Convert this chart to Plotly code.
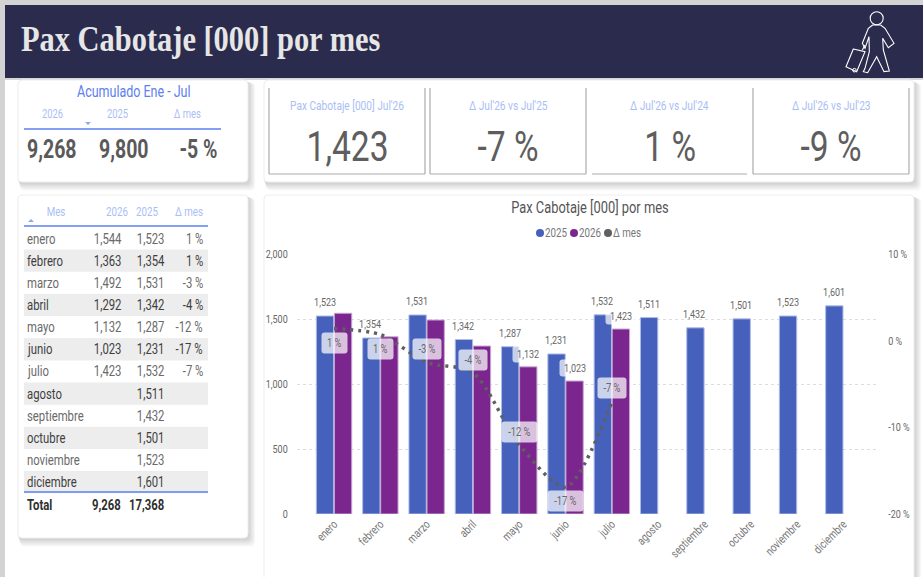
#!/usr/bin/env python3
# Pax Cabotaje dashboard: the chart on real axes, the cards drawn as shapes in pixel coordinates
import plotly.graph_objects as go

W = 923
H = 577

meses = ["enero", "febrero", "marzo", "abril", "mayo", "junio", "julio",
         "agosto", "septiembre", "octubre", "noviembre", "diciembre"]
pax_2025 = [1523, 1354, 1531, 1342, 1287, 1231, 1532, 1511, 1432, 1501, 1523, 1601]
pax_2026 = [1544, 1363, 1492, 1292, 1132, 1023, 1423, None, None, None, None, None]
delta_mes = [1.4, 0.7, -2.5, -3.7, -12.0, -16.9, -7.1, None, None, None, None, None]
delta_labels = ["1 %", "1 %", "-3 %", "-4 %", "-12 %", "-17 %", "-7 %"]
total_2026 = "9,268"
total_2025 = "17,368"
kpi_captions = ["Pax Cabotaje [000] Jul'26", "Δ Jul'26 vs Jul'25", "Δ Jul'26 vs Jul'24", "Δ Jul'26 vs Jul'23"]
kpi_values = ["1,423", "-7 %", "1 %", "-9 %"]
acum_headers = ["2026", "2025", "Δ mes"]
acum_values = ["9,268", "9,800", "-5 %"]
left_ticks = [0, 500, 1000, 1500, 2000]
right_ticks = [-20, -10, 0, 10]
right_tick_labels = ["-20 %", "-10 %", "0 %", "10 %"]

NAVY = "#2B2C4D"
BLUE = "#4561BC"
PURPLE = "#7A268E"
ACCENT = "#5B80F0"
HEAD = "#A9BEF6"
GREY = "#5F5F5F"
SANS = "Roboto, sans-serif"
SERIF = "Liberation Serif, serif"

# the report uses a condensed face that is not installed, so the text gets squeezed after drawing
SQUEEZE = """
document.body.style.margin = '0';
document.body.style.overflow = 'hidden';
document.querySelectorAll('.annotation text, .xtick text, .ytick text, .y2tick text').forEach(function (t) {
    var k = t.style.fontFamily.indexOf('Serif') >= 0 ? 0.845 : 0.78;
    t.setAttribute('lengthAdjust', 'spacingAndGlyphs');
    t.setAttribute('textLength', t.getComputedTextLength() * k);
});
document.querySelectorAll('.annotation .bg').forEach(function (r) { r.setAttribute('rx', 3); });
"""

shapes = []
notes = []


def px(x):
    return x / W


def py(y):
    return 1 - y / H


def rect(x0, y0, x1, y1, fill):
    shapes.append(dict(type="rect", xref="paper", yref="paper", x0=px(x0), x1=px(x1), y0=py(y1), y1=py(y0),
                       fillcolor=fill, line=dict(width=0), layer="below"))


def seg(x0, y0, x1, y1, color, width=1):
    shapes.append(dict(type="line", xref="paper", yref="paper", x0=px(x0), x1=px(x1), y0=py(y0), y1=py(y1),
                       line=dict(color=color, width=width), layer="below"))


def round_path(x0, y0, x1, y1, r):
    return (f"M {px(x0 + r)} {py(y0)} L {px(x1 - r)} {py(y0)} Q {px(x1)} {py(y0)} {px(x1)} {py(y0 + r)} "
            f"L {px(x1)} {py(y1 - r)} Q {px(x1)} {py(y1)} {px(x1 - r)} {py(y1)} "
            f"L {px(x0 + r)} {py(y1)} Q {px(x0)} {py(y1)} {px(x0)} {py(y1 - r)} "
            f"L {px(x0)} {py(y0 + r)} Q {px(x0)} {py(y0)} {px(x0 + r)} {py(y0)} Z")


def card(x0, y0, x1, y1):
    # soft shadow to the lower right, built from a few see-through layers
    for i in range(6, 0, -1):
        shapes.append(dict(type="path", xref="paper", yref="paper", layer="below",
                           path=round_path(x0 - 1 + i * .5, y0 + i * .5, x1 + i * 1.2, y1 + i * 1.4, 5),
                           fillcolor="rgba(0,0,0,0.03)", line=dict(width=0)))
    shapes.append(dict(type="path", xref="paper", yref="paper", layer="below",
                       path=round_path(x0, y0, x1, y1, 4), fillcolor="white", line=dict(color="#EEEEEE", width=1)))


def text(x, y, s, size, color, anchor="center", font=SANS, bold=False):
    # annotations carry a small inner pad, taken back here
    x += {"left": -2, "right": 1}.get(anchor, 0)
    notes.append(dict(xref="paper", yref="paper", x=px(x), y=py(y), text=s, showarrow=False,
                      xanchor=anchor, align=anchor, yanchor="middle",
                      font=dict(family=font, size=size, color=color, weight="bold" if bold else "normal")))


def poly(points, color="white", width=1.1, close=True):
    d = "M " + " L ".join(f"{px(830 + a / 3)} {py(b / 3)}" for a, b in points) + (" Z" if close else "")
    shapes.append(dict(type="path", xref="paper", yref="paper", path=d, line=dict(color=color, width=width), layer="above"))


def triangle(x, y, up, color):
    d = -3 if up else 3
    shapes.append(dict(type="path", xref="paper", yref="paper", layer="below", fillcolor=color, line=dict(width=0),
                       path=f"M {px(x - 3)} {py(y)} L {px(x + 3)} {py(y)} L {px(x)} {py(y + d)} Z"))


# page frame and header
rect(0, 0, W, 5, "#D3D3D3")
rect(0, 0, 5, H, "#D3D3D3")
rect(5, 78, W, 80, "#D8D8D8")
rect(5, 5, W, 78, NAVY)
text(21, 39, "Pax Cabotaje [000] por mes", 36, "#E6E6E6", "left", SERIF, True)

# traveller icon
poly([(128, 75), (115, 85), (97, 130), (105, 145), (117, 110), (118, 155), (105, 205), (100, 215), (113, 218),
      (140, 170), (162, 215), (178, 213), (160, 150), (158, 115), (175, 143), (192, 130), (165, 85), (152, 75)])
poly([(70, 147), (105, 155), (80, 215), (48, 200)])
poly([(97, 150), (105, 135)], close=False)
shapes.append(dict(type="circle", xref="paper", yref="paper", x0=px(870.2), x1=px(883.2), y0=py(24.8), y1=py(11.8),
                   line=dict(color="white", width=1.1), layer="above"))
shapes.append(dict(type="circle", xref="paper", yref="paper", x0=px(852.6), x1=px(856.2), y0=py(72), y1=py(68.4),
                   line=dict(color="white", width=1), layer="above"))

# cards
card(18, 80, 248, 182)
card(264, 80, 914, 182)
card(18, 195, 248, 538)
card(264, 195, 914, 600)

# accumulated card
text(134, 92, "Acumulado Ene - Jul", 16, ACCENT)
for cx, head in zip([52, 117, 187], acum_headers):
    text(cx, 114, head, 12, HEAD)
for cx, val in zip([52, 124, 198], acum_values):
    text(cx, 149, val, 25, "#5A5A5A", bold=True)
seg(24, 129, 221, 129, ACCENT, 1.3)
triangle(88, 122, False, "#8FA8F0")

# KPI boxes
for x0, x1, sides, cap, val in zip([269, 430, 592, 753], [425, 586, 747, 909], [True, True, False, True],
                                   kpi_captions, kpi_values):
    seg(x0, 174, x1, 174, "#ABABAB", 1.2)
    if sides:
        seg(x0, 88, x0, 174, "#ABABAB", 1.2)
        seg(x1, 88, x1, 174, "#ABABAB", 1.2)
    text((x0 + x1) / 2, 105, cap, 13, HEAD)
    text((x0 + x1) / 2, 146, val, 43, "#5E5E5E")

# monthly table
text(56, 211, "Mes", 12.5, HEAD)
text(117, 211, "2026", 12.5, HEAD)
text(147, 211, "2025", 12.5, HEAD)
text(189, 211, "Δ mes", 12.5, HEAD)
triangle(31, 222, True, "#8FA8F0")
seg(24, 226, 208, 226, ACCENT, 1.3)
row_top = 228
row_h = 22.15
for i, mes in enumerate(meses):
    cy = row_top + row_h * i + row_h / 2
    band = i % 2 == 1
    if band:
        rect(24, cy - row_h / 2, 208, cy + row_h / 2 - .5, "#EDEDED")
    else:
        seg(24, cy + row_h / 2, 208, cy + row_h / 2, "#E8E8E8")
    col = "#3F3F3F" if band else "#6A6A6A"
    text(27, cy, mes, 14.5, col, "left")
    if pax_2026[i] is not None:
        text(122, cy, f"{pax_2026[i]:,}", 14.5, col, "right")
        text(204, cy, delta_labels[i], 14.5, col, "right")
    text(165, cy, f"{pax_2025[i]:,}", 14.5, col, "right")
seg(24, 492, 208, 492, ACCENT, 1.3)
text(27, 505, "Total", 14.5, "#2F2F2F", "left", bold=True)
text(122, 505, total_2026, 14.5, "#2F2F2F", "right", bold=True)
text(165, 505, total_2025, 14.5, "#2F2F2F", "right", bold=True)

# chart title and legend
text(590, 207, "Pax Cabotaje [000] por mes", 16.5, "#555555")
for cx, color, lab in zip([540, 574, 608], [BLUE, PURPLE, GREY], ["2025", "2026", "Δ mes"]):
    shapes.append(dict(type="circle", xref="paper", yref="paper", layer="below", fillcolor=color, line=dict(width=0),
                       x0=px(cx - 4), x1=px(cx + 4), y0=py(237), y1=py(229)))
    text(cx + 5, 233, lab, 12.5, "#777777", "left")

fig = go.Figure()
fig.add_trace(go.Bar(x=meses, y=pax_2025, name="2025", marker=dict(color=BLUE, line=dict(color="#AEBBE6", width=1))))
fig.add_trace(go.Bar(x=meses, y=pax_2026, name="2026", marker=dict(color=PURPLE, line=dict(color="#C9A6D2", width=1))))
fig.add_trace(go.Scatter(x=meses, y=delta_mes, name="Δ mes", yaxis="y2", mode="lines",
                         line=dict(color=GREY, width=3.5, dash="3px,5px", shape="spline", smoothing=0.8)))

# data labels, each one over its own bar inside the group
for mes, val in zip(meses, pax_2025):
    notes.append(dict(x=mes, y=val, xref="x", yref="y", text=f"{val:,}", showarrow=False, xshift=-9.5, yshift=14,
                      font=dict(family=SANS, size=11.5, color="#666666")))
for mes, val in zip(meses[4:7], pax_2026[4:7]):
    notes.append(dict(x=mes, y=val, xref="x", yref="y", text=f"{val:,}", showarrow=False, xshift=9.5, yshift=13,
                      bgcolor="rgba(255,255,255,0.7)", font=dict(family=SANS, size=11.5, color="#666666")))

# delta labels sit above the line from marzo on, except the June low
label_shift = [-14, -14, 13, 13, 13, -14, 14]
for mes, val, lab, shift in zip(meses, delta_mes, delta_labels, label_shift):
    notes.append(dict(x=mes, y=val, xref="x", yref="y2", text=lab, showarrow=False, yshift=shift,
                      bgcolor="rgba(255,255,255,0.72)", borderpad=3,
                      font=dict(family=SANS, size=12, color="#6A6A6A")))

domain_y = [py(514), py(254)]
fig.update_layout(
    width=W, height=H, margin=dict(l=0, r=0, t=0, b=0, autoexpand=False), autosize=False,
    paper_bgcolor="white", plot_bgcolor="rgba(0,0,0,0)", showlegend=False,
    barmode="group", bargap=0.22, bargroupgap=0.04,
    shapes=shapes, annotations=notes,
    font=dict(family=SANS, color="#666666"),
    xaxis=dict(domain=[px(297), px(879)], type="category", categoryorder="array", categoryarray=meses,
               range=[-0.8, 11.77], tickangle=-45, showgrid=False, zeroline=False, showline=False, ticks="",
               tickfont=dict(size=12, color="#777777")),
    yaxis=dict(domain=domain_y, range=[0, 2000], tickvals=left_ticks, tickformat=",",
               showgrid=True, griddash="dot", gridcolor="#DDDDDD", gridwidth=1, zeroline=False, showline=False,
               ticks="outside", ticklen=6, tickcolor="rgba(0,0,0,0)", tickfont=dict(size=11.5, color="#666666")),
    yaxis2=dict(domain=domain_y, range=[-20, 10], overlaying="y", side="right", tickvals=right_ticks,
                ticktext=right_tick_labels, showgrid=False, zeroline=False, showline=False,
                ticks="outside", ticklen=6, tickcolor="rgba(0,0,0,0)", tickfont=dict(size=11.5, color="#666666")),
)

fig.write_html("out.html", config=dict(displayModeBar=False), post_script=SQUEEZE)
